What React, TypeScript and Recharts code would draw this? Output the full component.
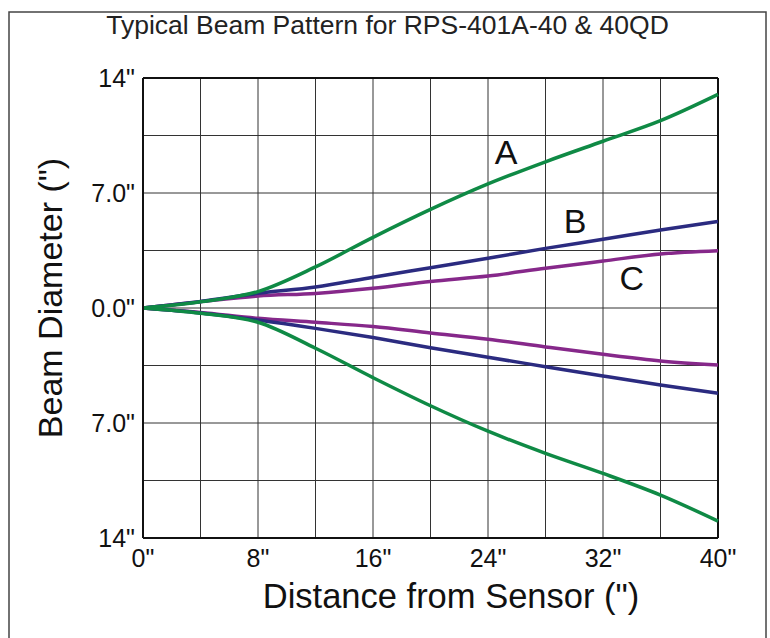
import React from 'react';
import { LineChart, Line, XAxis, YAxis, CartesianGrid, ReferenceLine, ReferenceDot } from 'recharts';

const distances = [0, 4, 8, 12, 16, 20, 24, 28, 32, 36, 40];
const beamAUpper = [0, 0.38, 1.0, 2.5, 4.3, 6.0, 7.55, 8.9, 10.15, 11.4, 13.0];
const beamALower = [0, -0.32, -0.87, -2.45, -4.24, -5.95, -7.5, -8.85, -10.07, -11.39, -12.97];
const beamBUpper = [0, 0.4, 0.89, 1.28, 1.87, 2.45, 3.03, 3.63, 4.18, 4.75, 5.27];
const beamBLower = [0, -0.3, -0.73, -1.24, -1.8, -2.42, -3.0, -3.57, -4.14, -4.69, -5.19];
const beamCUpper = [0, 0.38, 0.73, 0.89, 1.2, 1.62, 1.95, 2.42, 2.86, 3.29, 3.49];
const beamCLower = [0, -0.27, -0.63, -0.87, -1.13, -1.52, -1.9, -2.37, -2.82, -3.22, -3.47];

const xTickValues = [0, 4, 8, 12, 16, 20, 24, 28, 32, 36, 40];
const xTickLabels = ['0"', '', '8"', '', '16"', '', '24"', '', '32"', '', '40"'];
const yTickValues = [-14, -10.5, -7, -3.5, 0, 3.5, 7, 10.5, 14];
const yTickLabels = ['14"', '', '7.0"', '', '0.0"', '', '7.0"', '', '14"'];

const curveNames = ['A', 'B', 'C'];
const curveLabelX = [25.25, 30.05, 34.0];
const curveLabelY = [9.5, 5.33, 1.83];

const title = 'Typical Beam Pattern for RPS-401A-40 & 40QD';
const xAxisTitle = 'Distance from Sensor (")';
const yAxisTitle = 'Beam Diameter (")';

const GREEN = '#0f8a45';
const BLUE = '#2b2b80';
const PURPLE = '#86288a';
const FONT = '"Liberation Sans", Arial, sans-serif';

const data = distances.map((d, i) => ({
  d,
  aUp: beamAUpper[i],
  aLo: beamALower[i],
  bUp: beamBUpper[i],
  bLo: beamBLower[i],
  cUp: beamCUpper[i],
  cLo: beamCLower[i],
}));

const labelPoints = curveNames.map((n, i) => ({ n, x: curveLabelX[i], y: curveLabelY[i] }));

export default function App() {
  return (
    <div style={{ position: 'absolute', left: 0, top: 0, width: 770, height: 638, background: '#fff', fontFamily: FONT }}>
      <div style={{ position: 'absolute', left: 0, top: 0 }}>
        <LineChart width={770} height={638} data={data} margin={{ top: 78, right: 52, bottom: 0, left: 0 }}>
          <CartesianGrid stroke="#333" strokeWidth={1} />
          <XAxis
            dataKey="d"
            type="number"
            domain={[0, 40]}
            ticks={xTickValues}
            interval={0}
            height={100}
            tickLine={false}
            tickMargin={5}
            axisLine={{ stroke: '#111', strokeWidth: 2 }}
            tick={{ fontSize: 25, fill: '#111', fontFamily: FONT }}
            tickFormatter={(v: number) => xTickLabels[xTickValues.indexOf(v)] ?? ''}
          />
          <YAxis
            type="number"
            domain={[-14, 14]}
            ticks={yTickValues}
            interval={0}
            width={143}
            tickLine={false}
            tickMargin={2}
            axisLine={{ stroke: '#111', strokeWidth: 2 }}
            tick={{ fontSize: 25, fill: '#111', fontFamily: FONT }}
            tickFormatter={(v: number) => yTickLabels[yTickValues.indexOf(v)] ?? ''}
          />
          <ReferenceLine y={14} stroke="#111" strokeWidth={2} />
          <ReferenceLine x={40} stroke="#111" strokeWidth={2} />
          <Line type="monotone" dataKey="cUp" stroke={PURPLE} strokeWidth={3.5} dot={false} isAnimationActive={false} />
          <Line type="monotone" dataKey="cLo" stroke={PURPLE} strokeWidth={3.5} dot={false} isAnimationActive={false} />
          <Line type="monotone" dataKey="bUp" stroke={BLUE} strokeWidth={3.5} dot={false} isAnimationActive={false} />
          <Line type="monotone" dataKey="bLo" stroke={BLUE} strokeWidth={3.5} dot={false} isAnimationActive={false} />
          <Line type="monotone" dataKey="aUp" stroke={GREEN} strokeWidth={3.5} dot={false} isAnimationActive={false} />
          <Line type="monotone" dataKey="aLo" stroke={GREEN} strokeWidth={3.5} dot={false} isAnimationActive={false} />
          {labelPoints.map((p) => (
            <ReferenceDot
              key={p.n}
              x={p.x}
              y={p.y}
              r={0}
              isFront
              shape={(props: any) => (
                <text x={props.cx} y={props.cy} dy="0.355em" textAnchor="middle" fontSize={34} fill="#111" fontFamily={FONT}>
                  {p.n}
                </text>
              )}
            />
          ))}
        </LineChart>
      </div>
      <svg width={770} height={638} style={{ position: 'absolute', left: 0, top: 0, pointerEvents: 'none' }}>
        <rect x={9} y={12} width={757} height={640} fill="none" stroke="#444" strokeWidth={1.5} />
        <text x={387.5} y={34} textAnchor="middle" fontSize={26.5} fill="#222" fontFamily={FONT}>
          {title}
        </text>
        <text x={451} y={608} textAnchor="middle" fontSize={34.5} fill="#111" fontFamily={FONT}>
          {xAxisTitle}
        </text>
        <text x={50} y={298} dy="0.355em" textAnchor="middle" fontSize={34} fill="#111" fontFamily={FONT} transform="rotate(-90, 50, 298)">
          {yAxisTitle}
        </text>
      </svg>
    </div>
  );
}
